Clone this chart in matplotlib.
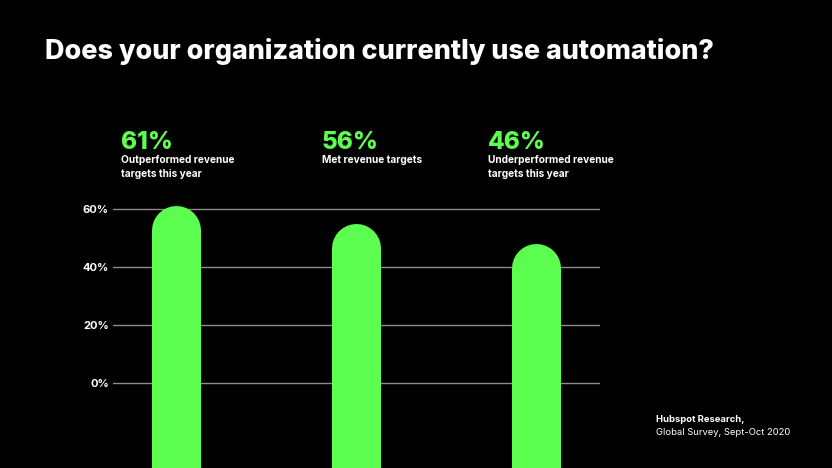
import matplotlib.pyplot as plt

# values as drawn in the picture (bar tops) and the headline labels
categories = ['Outperformed revenue\ntargets this year', 'Met revenue targets',
              'Underperformed revenue\ntargets this year']
headline = ['61%', '56%', '46%']
bar_tops = [61.3, 55.1, 48.1]
yticks = [0, 20, 40, 60]

green = '#5cff50'
plt.rcParams['font.family'] = ['Inter', 'DejaVu Sans']

fig = plt.figure(figsize=(8.32, 4.68), dpi=100, facecolor='black')
ax = fig.add_axes([0.1358, 0.0, 0.5853, 0.5726])
ax.set_facecolor('black')
ax.set_xlim(-0.349, 2.356)
ax.set_ylim(-29.4, 63.2)

for y in yticks:
    ax.axhline(y, color='#8c8c8c', lw=1.0, zorder=1)

# rounded bars: thick lines with round caps, cap top at the bar value
bar_px = 49
ppu = ax.bbox.height / (ax.get_ylim()[1] - ax.get_ylim()[0])
r = (bar_px / 2) / ppu
for i, v in enumerate(bar_tops):
    ax.plot([i, i], [-60, v - r], color=green, lw=bar_px * 72 / fig.dpi,
            solid_capstyle='round', zorder=2)

ax.set_yticks(yticks)
ax.set_yticklabels([f'{t}%' for t in yticks], color='white',
                   fontsize=8, fontweight='bold')
ax.tick_params(axis='y', length=0, pad=3)
ax.set_xticks([])
for s in ax.spines.values():
    s.set_visible(False)

fig.text(0.054, 0.889, 'Does your organization currently use automation?',
         color='white', fontsize=19.4, fontweight='heavy', va='center')

label_x = [0.145, 0.387, 0.586]
for x, h, c in zip(label_x, headline, categories):
    fig.text(x, 0.695, h, color=green, fontsize=17.5, fontweight='heavy', va='center')
    fig.text(x, 0.668, c, color='white', fontsize=7.3, fontweight='bold',
             va='top', linespacing=1.4)

fig.text(0.789, 0.103, 'Hubspot Research,', color='white', fontsize=6.8,
         fontweight='bold', va='center')
fig.text(0.789, 0.075, 'Global Survey, Sept-Oct 2020', color='white',
         fontsize=6.8, va='center')

fig.savefig('out.png', dpi=100, facecolor='black')
